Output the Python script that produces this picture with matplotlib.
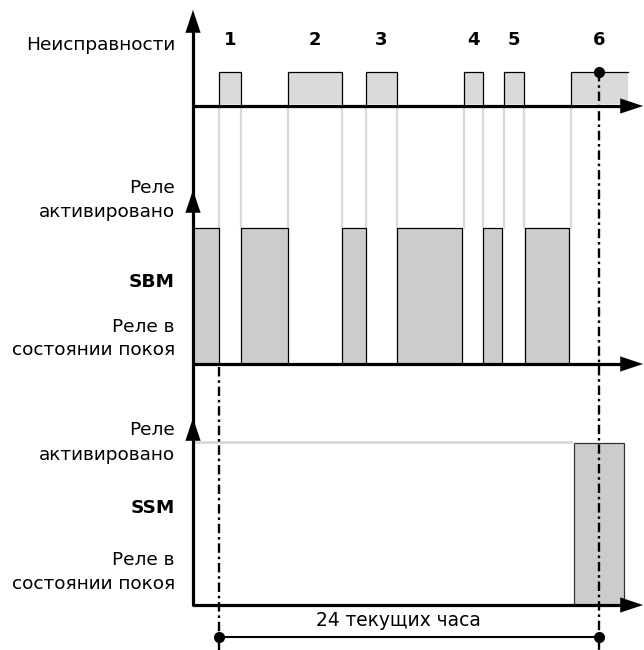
import matplotlib
matplotlib.use("Agg")
import matplotlib.pyplot as plt
from matplotlib.patches import Rectangle

plt.rcParams['font.family'] = ['DejaVu Sans']

# Fault intervals in hours, measured from the start of fault 1.
# The last fault is still running at the right edge.
fault_start = [0.0, 4.32, 9.25, 15.44, 17.96, 22.22]
fault_end = [1.35, 7.73, 11.23, 16.67, 19.22, 25.79]
fault_names = ['1', '2', '3', '4', '5', '6']

# SBM relay energised (= no fault)
sbm_start = [-1.64, 1.35, 7.73, 11.23, 16.64, 19.33]
sbm_end = [0.0, 4.32, 9.25, 15.31, 17.86, 22.11]

# SSM relay energised after the fault has lasted 24 h
ssm_start = [22.39]
ssm_end = [25.58]

window_h = 24
window_text = '24 текущих часа'

left_labels = [
    ('Неисправности', 45, 'normal'),
    ('Реле', 188, 'normal'),
    ('активировано', 212, 'normal'),
    ('SBM', 282, 'bold'),
    ('Реле в', 327, 'normal'),
    ('состоянии покоя', 350, 'normal'),
    ('Реле', 430, 'normal'),
    ('активировано', 455, 'normal'),
    ('SSM', 508, 'bold'),
    ('Реле в', 560, 'normal'),
    ('состоянии покоя', 584, 'normal'),
]

# ---- layout (pixels, y downwards) ----
W, H = 644, 650
px_per_h = 15.83
t0_px = 219.3
t_axis = (193 - t0_px) / px_per_h
t_tip = (643 - t0_px) / px_per_h

fault_base, fault_top = 106, 72
sbm_base, sbm_top = 364, 228
ssm_base, ssm_top = 605, 443

fig = plt.figure(figsize=(W / 100, H / 100), dpi=100)
ax = fig.add_axes([0, 0, 1, 1])
ax.set_xlim(-t0_px / px_per_h, (W - t0_px) / px_per_h)
ax.set_ylim(H, 0)
ax.axis('off')

arrow_style = dict(arrowstyle='-|>,head_length=1.35,head_width=0.45',
                   mutation_scale=12, color='black', lw=0.1,
                   shrinkA=0, shrinkB=0)
axis_lw = 2.3


def h_axis(y):
    ax.plot([t_axis, t_tip - 0.6], [y, y], color='black', lw=axis_lw,
            solid_capstyle='butt', zorder=5)
    ax.annotate('', xy=(t_tip, y), xytext=(t_tip - 1.0, y),
                arrowprops=arrow_style, zorder=6)


def v_head(y):
    ax.annotate('', xy=(t_axis, y), xytext=(t_axis, y + 20),
                arrowprops=arrow_style, zorder=6)


# vertical axis
ax.plot([t_axis, t_axis], [ssm_base + 1, 25], color='black', lw=axis_lw,
        solid_capstyle='butt', zorder=5)
for y in (10, 190, 418):
    v_head(y)
for y in (fault_base, sbm_base, ssm_base):
    h_axis(y)

# faults
for i, (s, e) in enumerate(zip(fault_start, fault_end)):
    ax.add_patch(Rectangle((s, fault_top), e - s, fault_base - fault_top - 2,
                           facecolor='#dadada', edgecolor='none', zorder=2))
    last = i == len(fault_start) - 1
    if last:
        ax.plot([s, s, e], [fault_base, fault_top, fault_top],
                color='black', lw=0.9, zorder=3)
    else:
        ax.plot([s, s, e, e], [fault_base, fault_top, fault_top, fault_base],
                color='black', lw=0.9, zorder=3)
    # grey guide lines down to the SBM track
    edges = [s] if last else [s, e]
    for x in edges:
        ax.plot([x, x], [fault_base + 2, sbm_top], color='#d9d9d9', lw=1.6,
                zorder=1)
    lx = window_h if last else (s + e) / 2
    ax.text(lx, 40, fault_names[i], ha='center', va='center',
            fontsize=13, fontweight='bold')

# SBM relay
for s, e in zip(sbm_start, sbm_end):
    ax.add_patch(Rectangle((s, sbm_top), e - s, sbm_base - sbm_top,
                           facecolor='#cccccc', edgecolor='black', lw=0.9,
                           zorder=2))

# SSM relay
ax.plot([t_axis, ssm_start[0] - 0.2], [ssm_top - 1, ssm_top - 1],
        color='#d6d6d6', lw=1.8, zorder=1)
for s, e in zip(ssm_start, ssm_end):
    ax.add_patch(Rectangle((s, ssm_top), e - s, ssm_base - ssm_top,
                           facecolor='#cccccc', edgecolor='#333333', lw=0.9,
                           zorder=2))

# 24 h window markers
dashdot = (0, (4, 1.6, 1.1, 1.6))
ax.plot([0, 0], [sbm_base + 3, H], color='black', lw=1.7,
        linestyle=dashdot, zorder=4)
ax.plot([window_h, window_h], [fault_top, H], color='black', lw=1.7,
        linestyle=dashdot, zorder=4)
ax.plot([window_h], [fault_top], 'o', color='black', ms=7, zorder=7)
ax.plot([0, window_h], [637, 637], color='black', lw=1.5, zorder=4)
ax.plot([0, window_h], [637, 637], 'o', color='black', ms=7, zorder=7)
ax.text(11.3, 621, window_text, ha='center', va='center', fontsize=13.4)

for text, y, weight in left_labels:
    ax.text(-2.8, y, text, ha='right', va='center', fontsize=13.3,
            fontweight=weight)

fig.savefig('out.png', dpi=100)
